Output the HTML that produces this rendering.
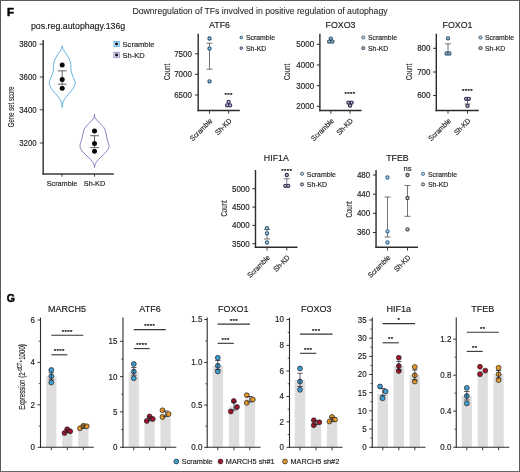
<!DOCTYPE html>
<html lang="en"><head><meta charset="utf-8"><title>Figure F-G</title>
<style>html,body{margin:0;padding:0;background:#fff;}body{width:520px;height:472px;overflow:hidden;}svg{display:block;font-family:'Liberation Sans', sans-serif;}text{stroke:#222;stroke-width:0.16px;}text.hd{stroke-width:0.05px;}text.pl{stroke:#000;stroke-width:0.45px;}text.yl{stroke-width:0.12px;}text.yg{stroke-width:0.12px;}text.st{stroke:#111;stroke-width:0.2px;letter-spacing:0.35px;}</style>
</head><body>
<svg width="520" height="472" viewBox="0 0 520 472" role="img" aria-label="Figure panels F and G">
<rect x="0.00" y="0.00" width="520.00" height="472.00" fill="#ffffff"/>
<rect x="0.00" y="0.00" width="520.00" height="1.00" fill="#5e5e5e"/>
<rect x="0.00" y="0.00" width="1.00" height="472.00" fill="#585858"/>
<rect x="0.00" y="471.00" width="520.00" height="1.00" fill="#666666"/>
<rect x="519.00" y="0.00" width="1.00" height="472.00" fill="#5a5a5a"/>
<text x="0.00" y="0.00" font-size="10.4" text-anchor="start" fill="#000" font-weight="bold" transform="translate(7.00 15.70) scale(1.1 1)" class="pl">F</text>
<text x="132.40" y="14.20" font-size="8.7" text-anchor="start" fill="#222222" textLength="255.2" lengthAdjust="spacing" class="hd">Downregulation of TFs involved in positive regulation of autophagy</text>
<text x="78.10" y="29.00" font-size="8.8" text-anchor="middle" fill="#222222">pos.reg.autophagy.136g</text>
<line x1="43.20" y1="40.00" x2="43.20" y2="174.70" stroke="#3a3a3a" stroke-width="1.5"/>
<line x1="42.45" y1="173.95" x2="113.80" y2="173.95" stroke="#3a3a3a" stroke-width="1.5"/>
<line x1="39.70" y1="44.20" x2="43.20" y2="44.20" stroke="#2b2b2b" stroke-width="0.9"/>
<text x="0.00" y="0.00" font-size="8.3" text-anchor="end" fill="#222222" transform="translate(36.60 47.10) scale(0.94 1)">3800</text>
<line x1="39.70" y1="77.00" x2="43.20" y2="77.00" stroke="#2b2b2b" stroke-width="0.9"/>
<text x="0.00" y="0.00" font-size="8.3" text-anchor="end" fill="#222222" transform="translate(36.60 79.90) scale(0.94 1)">3600</text>
<line x1="39.70" y1="109.80" x2="43.20" y2="109.80" stroke="#2b2b2b" stroke-width="0.9"/>
<text x="0.00" y="0.00" font-size="8.3" text-anchor="end" fill="#222222" transform="translate(36.60 112.70) scale(0.94 1)">3400</text>
<line x1="39.70" y1="143.00" x2="43.20" y2="143.00" stroke="#2b2b2b" stroke-width="0.9"/>
<text x="0.00" y="0.00" font-size="8.3" text-anchor="end" fill="#222222" transform="translate(36.60 145.90) scale(0.94 1)">3200</text>
<line x1="62.00" y1="173.95" x2="62.00" y2="176.65" stroke="#2b2b2b" stroke-width="0.9"/>
<text x="0.00" y="0.00" font-size="8.1" text-anchor="middle" fill="#222222" transform="translate(62.00 186.40) scale(0.9 1)">Scramble</text>
<line x1="94.50" y1="173.95" x2="94.50" y2="176.65" stroke="#2b2b2b" stroke-width="0.9"/>
<text x="0.00" y="0.00" font-size="8.1" text-anchor="middle" fill="#222222" transform="translate(94.50 186.40) scale(0.9 1)">Sh-KD</text>
<text x="0.00" y="0.00" font-size="9" text-anchor="middle" fill="#222222" transform="translate(13.80 106.80) rotate(-90) scale(0.67 1)" class="yl">Gene set score</text>
<path d="M62.20 45.90 C62.28 46.33 62.33 47.62 62.70 48.50 C63.07 49.38 63.55 49.87 64.40 51.20 C65.25 52.53 66.80 54.73 67.80 56.50 C68.80 58.27 69.88 60.03 70.40 61.80 C70.92 63.57 70.73 65.33 70.90 67.10 C71.07 68.87 70.97 70.63 71.40 72.40 C71.83 74.17 72.87 75.93 73.50 77.70 C74.13 79.47 75.25 81.23 75.20 83.00 C75.15 84.77 74.23 86.53 73.20 88.30 C72.17 90.07 70.42 91.83 69.00 93.60 C67.58 95.37 65.73 97.32 64.70 98.90 C63.67 100.48 63.22 101.70 62.80 103.10 C62.38 104.50 62.40 107.30 62.20 107.30 C62.00 107.30 62.02 104.50 61.60 103.10 C61.18 101.70 60.73 100.48 59.70 98.90 C58.67 97.32 56.82 95.37 55.40 93.60 C53.98 91.83 52.23 90.07 51.20 88.30 C50.17 86.53 49.25 84.77 49.20 83.00 C49.15 81.23 50.27 79.47 50.90 77.70 C51.53 75.93 52.57 74.17 53.00 72.40 C53.43 70.63 53.33 68.87 53.50 67.10 C53.67 65.33 53.48 63.57 54.00 61.80 C54.52 60.03 55.60 58.27 56.60 56.50 C57.60 54.73 59.15 52.53 60.00 51.20 C60.85 49.87 61.33 49.38 61.70 48.50 C62.07 47.62 62.12 46.33 62.20 45.90" fill="none" stroke="#3f9ed8" stroke-width="0.8" stroke-linejoin="round"/>
<path d="M94.50 114.20 C94.58 114.75 94.47 116.37 95.00 117.50 C95.53 118.63 96.68 119.83 97.70 121.00 C98.72 122.17 100.08 123.42 101.10 124.50 C102.12 125.58 103.08 126.42 103.80 127.50 C104.52 128.58 104.98 129.75 105.40 131.00 C105.82 132.25 106.02 133.67 106.30 135.00 C106.58 136.33 106.77 137.75 107.10 139.00 C107.43 140.25 107.98 141.42 108.30 142.50 C108.62 143.58 108.98 144.50 109.00 145.50 C109.02 146.50 108.88 147.42 108.40 148.50 C107.92 149.58 107.17 150.75 106.10 152.00 C105.03 153.25 103.27 154.75 102.00 156.00 C100.73 157.25 99.48 158.42 98.50 159.50 C97.52 160.58 96.68 161.58 96.10 162.50 C95.52 163.42 95.27 164.15 95.00 165.00 C94.73 165.85 94.67 167.60 94.50 167.60 C94.33 167.60 94.27 165.85 94.00 165.00 C93.73 164.15 93.48 163.42 92.90 162.50 C92.32 161.58 91.48 160.58 90.50 159.50 C89.52 158.42 88.27 157.25 87.00 156.00 C85.73 154.75 83.97 153.25 82.90 152.00 C81.83 150.75 81.08 149.58 80.60 148.50 C80.12 147.42 79.98 146.50 80.00 145.50 C80.02 144.50 80.38 143.58 80.70 142.50 C81.02 141.42 81.57 140.25 81.90 139.00 C82.23 137.75 82.42 136.33 82.70 135.00 C82.98 133.67 83.18 132.25 83.60 131.00 C84.02 129.75 84.48 128.58 85.20 127.50 C85.92 126.42 86.88 125.58 87.90 124.50 C88.92 123.42 90.28 122.17 91.30 121.00 C92.32 119.83 93.47 118.63 94.00 117.50 C94.53 116.37 94.42 114.75 94.50 114.20" fill="none" stroke="#6f62ad" stroke-width="0.8" stroke-linejoin="round"/>
<line x1="62.20" y1="70.85" x2="62.20" y2="84.20" stroke="#222" stroke-width="0.7"/>
<line x1="57.80" y1="70.85" x2="66.60" y2="70.85" stroke="#222" stroke-width="0.7"/>
<line x1="57.80" y1="84.20" x2="66.60" y2="84.20" stroke="#222" stroke-width="0.7"/>
<line x1="94.50" y1="135.70" x2="94.50" y2="147.60" stroke="#222" stroke-width="0.7"/>
<line x1="90.10" y1="135.70" x2="98.90" y2="135.70" stroke="#222" stroke-width="0.7"/>
<line x1="90.10" y1="147.60" x2="98.90" y2="147.60" stroke="#222" stroke-width="0.7"/>
<circle cx="62.20" cy="64.90" r="2.5" fill="#0a0a0a" stroke="#111" stroke-width="0"/>
<circle cx="62.20" cy="79.60" r="2.5" fill="#0a0a0a" stroke="#111" stroke-width="0"/>
<circle cx="62.20" cy="88.20" r="2.5" fill="#0a0a0a" stroke="#111" stroke-width="0"/>
<circle cx="94.50" cy="131.00" r="2.5" fill="#0a0a0a" stroke="#111" stroke-width="0"/>
<circle cx="94.50" cy="143.60" r="2.5" fill="#0a0a0a" stroke="#111" stroke-width="0"/>
<circle cx="94.50" cy="151.30" r="2.5" fill="#0a0a0a" stroke="#111" stroke-width="0"/>
<rect x="113.90" y="41.30" width="5.40" height="5.40" fill="#c4e5f8" stroke="#55ade2" stroke-width="0.8"/>
<circle cx="116.60" cy="44.00" r="1.45" fill="#0a0a0a" stroke="#111" stroke-width="0"/>
<text x="0.00" y="0.00" font-size="8.1" text-anchor="start" fill="#222222" transform="translate(122.60 46.50) scale(0.93 1)">Scramble</text>
<rect x="113.90" y="52.30" width="5.40" height="5.40" fill="#dedaf0" stroke="#8d84c2" stroke-width="0.8"/>
<circle cx="116.60" cy="55.00" r="1.45" fill="#0a0a0a" stroke="#111" stroke-width="0"/>
<text x="0.00" y="0.00" font-size="8.1" text-anchor="start" fill="#222222" transform="translate(122.60 57.50) scale(0.93 1)">Sh-KD</text>
<text x="219.50" y="28.20" font-size="8.8" text-anchor="middle" fill="#222222">ATF6</text>
<line x1="198.20" y1="33.80" x2="198.20" y2="111.20" stroke="#2b2b2b" stroke-width="1.4"/>
<line x1="197.50" y1="110.50" x2="239.80" y2="110.50" stroke="#2b2b2b" stroke-width="1.4"/>
<line x1="195.10" y1="53.80" x2="198.20" y2="53.80" stroke="#2b2b2b" stroke-width="1.0"/>
<text x="0.00" y="0.00" font-size="8.5" text-anchor="end" fill="#222222" transform="translate(191.90 56.75) scale(0.94 1)">7500</text>
<line x1="195.10" y1="74.30" x2="198.20" y2="74.30" stroke="#2b2b2b" stroke-width="1.0"/>
<text x="0.00" y="0.00" font-size="8.5" text-anchor="end" fill="#222222" transform="translate(191.90 77.25) scale(0.94 1)">7000</text>
<line x1="195.10" y1="95.00" x2="198.20" y2="95.00" stroke="#2b2b2b" stroke-width="1.0"/>
<text x="0.00" y="0.00" font-size="8.5" text-anchor="end" fill="#222222" transform="translate(191.90 97.95) scale(0.94 1)">6500</text>
<line x1="209.50" y1="110.50" x2="209.50" y2="113.70" stroke="#2b2b2b" stroke-width="0.9"/>
<text x="0.00" y="0.00" font-size="7.3" text-anchor="end" fill="#222222" transform="translate(213.00 121.30) rotate(-45) scale(0.93 1)">Scramble</text>
<line x1="228.60" y1="110.50" x2="228.60" y2="113.70" stroke="#2b2b2b" stroke-width="0.9"/>
<text x="0.00" y="0.00" font-size="7.3" text-anchor="end" fill="#222222" transform="translate(232.10 121.30) rotate(-45) scale(0.93 1)">Sh-KD</text>
<text x="0.00" y="0.00" font-size="9.5" text-anchor="middle" fill="#222222" transform="translate(169.90 72.00) rotate(-90) scale(0.64 1)" class="yl">Count</text>
<circle cx="241.30" cy="37.50" r="1.3" fill="#9ccbe6" stroke="#265273" stroke-width="0.95"/>
<text x="0.00" y="0.00" font-size="7.4" text-anchor="start" fill="#222222" transform="translate(246.00 40.20) scale(0.93 1)">Scramble</text>
<circle cx="241.30" cy="48.10" r="1.3" fill="#bdbad6" stroke="#3b3a5c" stroke-width="0.95"/>
<text x="0.00" y="0.00" font-size="7.4" text-anchor="start" fill="#222222" transform="translate(246.00 50.80) scale(0.93 1)">Sh-KD</text>
<line x1="209.50" y1="43.20" x2="209.50" y2="69.20" stroke="#5a5a62" stroke-width="0.85"/>
<line x1="206.50" y1="43.20" x2="212.50" y2="43.20" stroke="#5a5a62" stroke-width="0.85"/>
<line x1="206.50" y1="69.20" x2="212.50" y2="69.20" stroke="#5a5a62" stroke-width="0.85"/>
<circle cx="209.50" cy="38.50" r="1.6" fill="#9ccbe6" stroke="#265273" stroke-width="1.15"/>
<circle cx="209.50" cy="48.60" r="1.6" fill="#9ccbe6" stroke="#265273" stroke-width="1.15"/>
<circle cx="209.50" cy="81.30" r="1.6" fill="#9ccbe6" stroke="#265273" stroke-width="1.15"/>
<circle cx="228.60" cy="101.90" r="1.6" fill="#bdbad6" stroke="#3b3a5c" stroke-width="1.15"/>
<circle cx="227.10" cy="105.30" r="1.6" fill="#bdbad6" stroke="#3b3a5c" stroke-width="1.15"/>
<circle cx="230.10" cy="105.30" r="1.6" fill="#bdbad6" stroke="#3b3a5c" stroke-width="1.15"/>
<text x="228.60" y="97.20" font-size="6.2" text-anchor="middle" fill="#111" class="st">***</text>
<text x="340.50" y="28.20" font-size="8.8" text-anchor="middle" fill="#222222">FOXO3</text>
<line x1="319.90" y1="33.80" x2="319.90" y2="111.20" stroke="#2b2b2b" stroke-width="1.4"/>
<line x1="319.20" y1="110.50" x2="361.60" y2="110.50" stroke="#2b2b2b" stroke-width="1.4"/>
<line x1="316.80" y1="44.30" x2="319.90" y2="44.30" stroke="#2b2b2b" stroke-width="1.0"/>
<text x="0.00" y="0.00" font-size="8.5" text-anchor="end" fill="#222222" transform="translate(314.10 47.25) scale(0.94 1)">5000</text>
<line x1="316.80" y1="65.00" x2="319.90" y2="65.00" stroke="#2b2b2b" stroke-width="1.0"/>
<text x="0.00" y="0.00" font-size="8.5" text-anchor="end" fill="#222222" transform="translate(314.10 67.95) scale(0.94 1)">4000</text>
<line x1="316.80" y1="85.70" x2="319.90" y2="85.70" stroke="#2b2b2b" stroke-width="1.0"/>
<text x="0.00" y="0.00" font-size="8.5" text-anchor="end" fill="#222222" transform="translate(314.10 88.65) scale(0.94 1)">3000</text>
<line x1="316.80" y1="106.30" x2="319.90" y2="106.30" stroke="#2b2b2b" stroke-width="1.0"/>
<text x="0.00" y="0.00" font-size="8.5" text-anchor="end" fill="#222222" transform="translate(314.10 109.25) scale(0.94 1)">2000</text>
<line x1="330.80" y1="110.50" x2="330.80" y2="113.70" stroke="#2b2b2b" stroke-width="0.9"/>
<text x="0.00" y="0.00" font-size="7.3" text-anchor="end" fill="#222222" transform="translate(334.30 121.30) rotate(-45) scale(0.93 1)">Scramble</text>
<line x1="350.00" y1="110.50" x2="350.00" y2="113.70" stroke="#2b2b2b" stroke-width="0.9"/>
<text x="0.00" y="0.00" font-size="7.3" text-anchor="end" fill="#222222" transform="translate(353.50 121.30) rotate(-45) scale(0.93 1)">Sh-KD</text>
<text x="0.00" y="0.00" font-size="9.5" text-anchor="middle" fill="#222222" transform="translate(289.90 72.00) rotate(-90) scale(0.64 1)" class="yl">Count</text>
<circle cx="363.30" cy="37.50" r="1.6" fill="#c4d3dc" stroke="#4d6675" stroke-width="0.95"/>
<text x="0.00" y="0.00" font-size="7.4" text-anchor="start" fill="#222222" transform="translate(368.00 40.20) scale(0.93 1)">Scramble</text>
<circle cx="363.30" cy="48.10" r="1.6" fill="#b8b8c8" stroke="#44445a" stroke-width="0.95"/>
<text x="0.00" y="0.00" font-size="7.4" text-anchor="start" fill="#222222" transform="translate(368.00 50.80) scale(0.93 1)">Sh-KD</text>
<circle cx="330.80" cy="38.60" r="1.6" fill="#a9c6d8" stroke="#2f5068" stroke-width="1.15"/>
<circle cx="329.20" cy="41.60" r="1.6" fill="#a9c6d8" stroke="#2f5068" stroke-width="1.15"/>
<circle cx="332.40" cy="41.60" r="1.6" fill="#a9c6d8" stroke="#2f5068" stroke-width="1.15"/>
<circle cx="348.40" cy="102.60" r="1.6" fill="#b5b5d0" stroke="#2c2c4a" stroke-width="1.15"/>
<circle cx="351.60" cy="102.60" r="1.6" fill="#b5b5d0" stroke="#2c2c4a" stroke-width="1.15"/>
<circle cx="350.00" cy="105.60" r="1.6" fill="#b5b5d0" stroke="#2c2c4a" stroke-width="1.15"/>
<text x="350.00" y="95.80" font-size="6.2" text-anchor="middle" fill="#111" class="st">****</text>
<text x="457.50" y="28.20" font-size="8.8" text-anchor="middle" fill="#222222">FOXO1</text>
<line x1="436.30" y1="33.80" x2="436.30" y2="111.20" stroke="#2b2b2b" stroke-width="1.4"/>
<line x1="435.60" y1="110.50" x2="478.80" y2="110.50" stroke="#2b2b2b" stroke-width="1.4"/>
<line x1="433.20" y1="48.30" x2="436.30" y2="48.30" stroke="#2b2b2b" stroke-width="1.0"/>
<text x="0.00" y="0.00" font-size="8.5" text-anchor="end" fill="#222222" transform="translate(430.50 51.25) scale(0.94 1)">800</text>
<line x1="433.20" y1="72.00" x2="436.30" y2="72.00" stroke="#2b2b2b" stroke-width="1.0"/>
<text x="0.00" y="0.00" font-size="8.5" text-anchor="end" fill="#222222" transform="translate(430.50 74.95) scale(0.94 1)">700</text>
<line x1="433.20" y1="95.50" x2="436.30" y2="95.50" stroke="#2b2b2b" stroke-width="1.0"/>
<text x="0.00" y="0.00" font-size="8.5" text-anchor="end" fill="#222222" transform="translate(430.50 98.45) scale(0.94 1)">600</text>
<line x1="448.00" y1="110.50" x2="448.00" y2="113.70" stroke="#2b2b2b" stroke-width="0.9"/>
<text x="0.00" y="0.00" font-size="7.3" text-anchor="end" fill="#222222" transform="translate(451.50 121.30) rotate(-45) scale(0.93 1)">Scramble</text>
<line x1="467.50" y1="110.50" x2="467.50" y2="113.70" stroke="#2b2b2b" stroke-width="0.9"/>
<text x="0.00" y="0.00" font-size="7.3" text-anchor="end" fill="#222222" transform="translate(471.00 121.30) rotate(-45) scale(0.93 1)">Sh-KD</text>
<text x="0.00" y="0.00" font-size="9.5" text-anchor="middle" fill="#222222" transform="translate(412.40 72.00) rotate(-90) scale(0.64 1)" class="yl">Count</text>
<circle cx="480.50" cy="37.50" r="1.6" fill="#b5cbd8" stroke="#3c5a70" stroke-width="0.95"/>
<text x="0.00" y="0.00" font-size="7.4" text-anchor="start" fill="#222222" transform="translate(485.00 40.20) scale(0.93 1)">Scramble</text>
<circle cx="480.50" cy="48.10" r="1.6" fill="#b8b8c8" stroke="#3c3c54" stroke-width="0.95"/>
<text x="0.00" y="0.00" font-size="7.4" text-anchor="start" fill="#222222" transform="translate(485.00 50.80) scale(0.93 1)">Sh-KD</text>
<line x1="448.00" y1="43.80" x2="448.00" y2="53.40" stroke="#5a5a62" stroke-width="0.85"/>
<line x1="445.00" y1="43.80" x2="451.00" y2="43.80" stroke="#5a5a62" stroke-width="0.85"/>
<line x1="445.00" y1="53.40" x2="451.00" y2="53.40" stroke="#5a5a62" stroke-width="0.85"/>
<circle cx="448.00" cy="38.30" r="1.6" fill="#a9c6d8" stroke="#34566c" stroke-width="1.15"/>
<circle cx="446.60" cy="53.50" r="1.6" fill="#a9c6d8" stroke="#34566c" stroke-width="1.15"/>
<circle cx="449.40" cy="53.50" r="1.6" fill="#a9c6d8" stroke="#34566c" stroke-width="1.15"/>
<line x1="467.50" y1="98.40" x2="467.50" y2="104.00" stroke="#5a5a62" stroke-width="0.85"/>
<line x1="464.50" y1="98.40" x2="470.50" y2="98.40" stroke="#5a5a62" stroke-width="0.85"/>
<line x1="464.50" y1="104.00" x2="470.50" y2="104.00" stroke="#5a5a62" stroke-width="0.85"/>
<circle cx="466.20" cy="98.80" r="1.6" fill="#b5b5d0" stroke="#33334e" stroke-width="1.15"/>
<circle cx="468.80" cy="98.80" r="1.6" fill="#b5b5d0" stroke="#33334e" stroke-width="1.15"/>
<circle cx="467.50" cy="105.80" r="1.6" fill="#b5b5d0" stroke="#33334e" stroke-width="1.15"/>
<text x="467.50" y="93.20" font-size="6.2" text-anchor="middle" fill="#111" class="st">****</text>
<text x="276.30" y="160.70" font-size="8.8" text-anchor="middle" fill="#222222">HIF1A</text>
<line x1="255.50" y1="170.00" x2="255.50" y2="248.00" stroke="#2b2b2b" stroke-width="1.4"/>
<line x1="254.80" y1="247.30" x2="297.50" y2="247.30" stroke="#2b2b2b" stroke-width="1.4"/>
<line x1="252.40" y1="188.70" x2="255.50" y2="188.70" stroke="#2b2b2b" stroke-width="1.0"/>
<text x="0.00" y="0.00" font-size="8.5" text-anchor="end" fill="#222222" transform="translate(249.70 191.65) scale(0.94 1)">5000</text>
<line x1="252.40" y1="207.10" x2="255.50" y2="207.10" stroke="#2b2b2b" stroke-width="1.0"/>
<text x="0.00" y="0.00" font-size="8.5" text-anchor="end" fill="#222222" transform="translate(249.70 210.05) scale(0.94 1)">4500</text>
<line x1="252.40" y1="225.40" x2="255.50" y2="225.40" stroke="#2b2b2b" stroke-width="1.0"/>
<text x="0.00" y="0.00" font-size="8.5" text-anchor="end" fill="#222222" transform="translate(249.70 228.35) scale(0.94 1)">4000</text>
<line x1="252.40" y1="243.70" x2="255.50" y2="243.70" stroke="#2b2b2b" stroke-width="1.0"/>
<text x="0.00" y="0.00" font-size="8.5" text-anchor="end" fill="#222222" transform="translate(249.70 246.65) scale(0.94 1)">3500</text>
<line x1="267.00" y1="247.30" x2="267.00" y2="250.50" stroke="#2b2b2b" stroke-width="0.9"/>
<text x="0.00" y="0.00" font-size="7.3" text-anchor="end" fill="#222222" transform="translate(270.50 258.10) rotate(-45) scale(0.93 1)">Scramble</text>
<line x1="286.80" y1="247.30" x2="286.80" y2="250.50" stroke="#2b2b2b" stroke-width="0.9"/>
<text x="0.00" y="0.00" font-size="7.3" text-anchor="end" fill="#222222" transform="translate(290.30 258.10) rotate(-45) scale(0.93 1)">Sh-KD</text>
<text x="0.00" y="0.00" font-size="9.5" text-anchor="middle" fill="#222222" transform="translate(226.90 208.50) rotate(-90) scale(0.64 1)" class="yl">Count</text>
<circle cx="302.00" cy="173.80" r="1.6" fill="#bcd0dc" stroke="#4a6a80" stroke-width="0.95"/>
<text x="0.00" y="0.00" font-size="7.4" text-anchor="start" fill="#222222" transform="translate(306.80 176.50) scale(0.93 1)">Scramble</text>
<circle cx="302.00" cy="184.40" r="1.6" fill="#b8b8c8" stroke="#44445a" stroke-width="0.95"/>
<text x="0.00" y="0.00" font-size="7.4" text-anchor="start" fill="#222222" transform="translate(306.80 187.10) scale(0.93 1)">Sh-KD</text>
<line x1="267.00" y1="229.50" x2="267.00" y2="239.00" stroke="#5a5a62" stroke-width="0.85"/>
<line x1="264.00" y1="229.50" x2="270.00" y2="229.50" stroke="#5a5a62" stroke-width="0.85"/>
<line x1="264.00" y1="239.00" x2="270.00" y2="239.00" stroke="#5a5a62" stroke-width="0.85"/>
<circle cx="267.00" cy="228.20" r="1.6" fill="#b5d3e4" stroke="#34607c" stroke-width="1.15"/>
<circle cx="267.00" cy="233.30" r="1.6" fill="#b5d3e4" stroke="#34607c" stroke-width="1.15"/>
<circle cx="267.00" cy="242.50" r="1.6" fill="#b5d3e4" stroke="#34607c" stroke-width="1.15"/>
<line x1="286.80" y1="178.80" x2="286.80" y2="185.50" stroke="#5a5a62" stroke-width="0.85"/>
<line x1="283.80" y1="178.80" x2="289.80" y2="178.80" stroke="#5a5a62" stroke-width="0.85"/>
<line x1="283.80" y1="185.50" x2="289.80" y2="185.50" stroke="#5a5a62" stroke-width="0.85"/>
<circle cx="286.80" cy="175.00" r="1.6" fill="#c0c0d8" stroke="#33334e" stroke-width="1.15"/>
<circle cx="285.40" cy="185.80" r="1.6" fill="#c0c0d8" stroke="#33334e" stroke-width="1.15"/>
<circle cx="288.20" cy="185.80" r="1.6" fill="#c0c0d8" stroke="#33334e" stroke-width="1.15"/>
<text x="286.80" y="172.50" font-size="6.2" text-anchor="middle" fill="#111" class="st">****</text>
<text x="397.50" y="160.70" font-size="8.8" text-anchor="middle" fill="#222222">TFEB</text>
<line x1="376.05" y1="170.00" x2="376.05" y2="248.00" stroke="#2b2b2b" stroke-width="1.4"/>
<line x1="375.35" y1="247.30" x2="418.00" y2="247.30" stroke="#2b2b2b" stroke-width="1.4"/>
<line x1="372.95" y1="175.00" x2="376.05" y2="175.00" stroke="#2b2b2b" stroke-width="1.0"/>
<text x="0.00" y="0.00" font-size="8.5" text-anchor="end" fill="#222222" transform="translate(370.25 177.95) scale(0.94 1)">480</text>
<line x1="372.95" y1="194.20" x2="376.05" y2="194.20" stroke="#2b2b2b" stroke-width="1.0"/>
<text x="0.00" y="0.00" font-size="8.5" text-anchor="end" fill="#222222" transform="translate(370.25 197.15) scale(0.94 1)">440</text>
<line x1="372.95" y1="213.30" x2="376.05" y2="213.30" stroke="#2b2b2b" stroke-width="1.0"/>
<text x="0.00" y="0.00" font-size="8.5" text-anchor="end" fill="#222222" transform="translate(370.25 216.25) scale(0.94 1)">400</text>
<line x1="372.95" y1="232.50" x2="376.05" y2="232.50" stroke="#2b2b2b" stroke-width="1.0"/>
<text x="0.00" y="0.00" font-size="8.5" text-anchor="end" fill="#222222" transform="translate(370.25 235.45) scale(0.94 1)">360</text>
<line x1="387.50" y1="247.30" x2="387.50" y2="250.50" stroke="#2b2b2b" stroke-width="0.9"/>
<text x="0.00" y="0.00" font-size="7.3" text-anchor="end" fill="#222222" transform="translate(391.00 258.10) rotate(-45) scale(0.93 1)">Scramble</text>
<line x1="407.50" y1="247.30" x2="407.50" y2="250.50" stroke="#2b2b2b" stroke-width="0.9"/>
<text x="0.00" y="0.00" font-size="7.3" text-anchor="end" fill="#222222" transform="translate(411.00 258.10) rotate(-45) scale(0.93 1)">Sh-KD</text>
<text x="0.00" y="0.00" font-size="9.5" text-anchor="middle" fill="#222222" transform="translate(352.10 209.30) rotate(-90) scale(0.64 1)" class="yl">Count</text>
<circle cx="423.00" cy="173.80" r="1.6" fill="#b5d3e8" stroke="#3f7098" stroke-width="0.95"/>
<text x="0.00" y="0.00" font-size="7.4" text-anchor="start" fill="#222222" transform="translate(428.00 176.50) scale(0.93 1)">Scramble</text>
<circle cx="423.00" cy="184.40" r="1.6" fill="#cccccc" stroke="#4a4a4a" stroke-width="0.95"/>
<text x="0.00" y="0.00" font-size="7.4" text-anchor="start" fill="#222222" transform="translate(428.00 187.10) scale(0.93 1)">Sh-KD</text>
<line x1="387.50" y1="197.00" x2="387.50" y2="237.00" stroke="#5a5a62" stroke-width="0.85"/>
<line x1="384.50" y1="197.00" x2="390.50" y2="197.00" stroke="#5a5a62" stroke-width="0.85"/>
<line x1="384.50" y1="237.00" x2="390.50" y2="237.00" stroke="#5a5a62" stroke-width="0.85"/>
<circle cx="387.50" cy="177.50" r="1.6" fill="#b5d3e8" stroke="#3a6e96" stroke-width="1.15"/>
<circle cx="387.50" cy="231.30" r="1.6" fill="#b5d3e8" stroke="#3a6e96" stroke-width="1.15"/>
<circle cx="387.50" cy="242.50" r="1.6" fill="#b5d3e8" stroke="#3a6e96" stroke-width="1.15"/>
<line x1="407.50" y1="185.50" x2="407.50" y2="216.30" stroke="#5a5a62" stroke-width="0.85"/>
<line x1="404.50" y1="185.50" x2="410.50" y2="185.50" stroke="#5a5a62" stroke-width="0.85"/>
<line x1="404.50" y1="216.30" x2="410.50" y2="216.30" stroke="#5a5a62" stroke-width="0.85"/>
<circle cx="407.50" cy="175.00" r="1.6" fill="#d0d0d0" stroke="#474747" stroke-width="1.15"/>
<circle cx="407.50" cy="198.00" r="1.6" fill="#d0d0d0" stroke="#474747" stroke-width="1.15"/>
<circle cx="407.50" cy="229.30" r="1.6" fill="#d0d0d0" stroke="#474747" stroke-width="1.15"/>
<text x="407.50" y="171.20" font-size="7.6" text-anchor="middle" fill="#222222">ns</text>
<text x="0.00" y="0.00" font-size="10.8" text-anchor="start" fill="#000" font-weight="bold" transform="translate(6.80 301.90) scale(0.98 1)" class="pl">G</text>
<text x="67.00" y="312.20" font-size="9" text-anchor="middle" fill="#222222">MARCH5</text>
<rect x="46.20" y="376.30" width="10.20" height="71.00" fill="#dedede"/>
<rect x="62.20" y="431.50" width="10.20" height="15.80" fill="#dedede"/>
<rect x="78.20" y="427.00" width="10.20" height="20.30" fill="#dedede"/>
<line x1="40.50" y1="317.60" x2="40.50" y2="447.85" stroke="#2b2b2b" stroke-width="1.1"/>
<line x1="39.95" y1="447.30" x2="93.80" y2="447.30" stroke="#2b2b2b" stroke-width="1.1"/>
<line x1="38.70" y1="341.20" x2="40.50" y2="341.20" stroke="#2b2b2b" stroke-width="0.8"/>
<line x1="38.70" y1="383.60" x2="40.50" y2="383.60" stroke="#2b2b2b" stroke-width="0.8"/>
<line x1="38.70" y1="426.05" x2="40.50" y2="426.05" stroke="#2b2b2b" stroke-width="0.8"/>
<line x1="37.50" y1="320.00" x2="40.50" y2="320.00" stroke="#2b2b2b" stroke-width="0.95"/>
<text x="0.00" y="0.00" font-size="8.5" text-anchor="end" fill="#222222" transform="translate(34.90 322.95) scale(0.94 1)">6</text>
<line x1="37.50" y1="362.40" x2="40.50" y2="362.40" stroke="#2b2b2b" stroke-width="0.95"/>
<text x="0.00" y="0.00" font-size="8.5" text-anchor="end" fill="#222222" transform="translate(34.90 365.35) scale(0.94 1)">4</text>
<line x1="37.50" y1="404.80" x2="40.50" y2="404.80" stroke="#2b2b2b" stroke-width="0.95"/>
<text x="0.00" y="0.00" font-size="8.5" text-anchor="end" fill="#222222" transform="translate(34.90 407.75) scale(0.94 1)">2</text>
<line x1="37.50" y1="447.30" x2="40.50" y2="447.30" stroke="#2b2b2b" stroke-width="0.95"/>
<text x="0.00" y="0.00" font-size="8.5" text-anchor="end" fill="#222222" transform="translate(34.90 450.25) scale(0.94 1)">0</text>
<line x1="51.30" y1="447.30" x2="51.30" y2="450.30" stroke="#2b2b2b" stroke-width="0.95"/>
<line x1="67.30" y1="447.30" x2="67.30" y2="450.30" stroke="#2b2b2b" stroke-width="0.95"/>
<line x1="83.30" y1="447.30" x2="83.30" y2="450.30" stroke="#2b2b2b" stroke-width="0.95"/>
<circle cx="51.30" cy="370.00" r="2.45" fill="#3f9fd3" stroke="#1c1c1c" stroke-width="0.7"/>
<circle cx="51.30" cy="376.30" r="2.45" fill="#3f9fd3" stroke="#1c1c1c" stroke-width="0.7"/>
<circle cx="51.30" cy="382.50" r="2.45" fill="#3f9fd3" stroke="#1c1c1c" stroke-width="0.7"/>
<circle cx="64.50" cy="433.00" r="2.45" fill="#a3162d" stroke="#1c1c1c" stroke-width="0.7"/>
<circle cx="67.20" cy="429.30" r="2.45" fill="#a3162d" stroke="#1c1c1c" stroke-width="0.7"/>
<circle cx="70.20" cy="431.30" r="2.45" fill="#a3162d" stroke="#1c1c1c" stroke-width="0.7"/>
<circle cx="80.00" cy="428.30" r="2.45" fill="#e59a2b" stroke="#1c1c1c" stroke-width="0.7"/>
<circle cx="83.50" cy="425.80" r="2.45" fill="#e59a2b" stroke="#1c1c1c" stroke-width="0.7"/>
<circle cx="86.70" cy="426.30" r="2.45" fill="#e59a2b" stroke="#1c1c1c" stroke-width="0.7"/>
<line x1="51.30" y1="372.80" x2="51.30" y2="379.80" stroke="#1a1a2a" stroke-width="0.7"/>
<line x1="48.60" y1="372.80" x2="54.00" y2="372.80" stroke="#1a1a2a" stroke-width="0.7"/>
<line x1="48.60" y1="379.80" x2="54.00" y2="379.80" stroke="#1a1a2a" stroke-width="0.7"/>
<line x1="67.30" y1="429.30" x2="67.30" y2="432.60" stroke="#1a1a2a" stroke-width="0.7"/>
<line x1="64.60" y1="429.30" x2="70.00" y2="429.30" stroke="#1a1a2a" stroke-width="0.7"/>
<line x1="64.60" y1="432.60" x2="70.00" y2="432.60" stroke="#1a1a2a" stroke-width="0.7"/>
<line x1="83.30" y1="425.20" x2="83.30" y2="428.20" stroke="#1a1a2a" stroke-width="0.7"/>
<line x1="80.60" y1="425.20" x2="86.00" y2="425.20" stroke="#1a1a2a" stroke-width="0.7"/>
<line x1="80.60" y1="428.20" x2="86.00" y2="428.20" stroke="#1a1a2a" stroke-width="0.7"/>
<line x1="51.30" y1="335.30" x2="83.30" y2="335.30" stroke="#333333" stroke-width="1.1"/>
<text x="67.30" y="333.80" font-size="6.2" text-anchor="middle" fill="#111" class="st">****</text>
<line x1="51.30" y1="354.80" x2="67.30" y2="354.80" stroke="#333333" stroke-width="1.1"/>
<text x="59.30" y="353.30" font-size="6.2" text-anchor="middle" fill="#111" class="st">****</text>
<text x="0.00" y="0.00" font-size="9" text-anchor="start" fill="#222222" transform="translate(24.90 409.80) rotate(-90) scale(0.68 1)" class="yg" id="ylabG">Expression (2<tspan font-size="6.4" dy="-3.2" dx="0.3">-dCT</tspan><tspan font-size="7" dy="1.2" dx="0.8">•</tspan><tspan dy="2" dx="0.8">1000)</tspan></text>
<text x="150.00" y="312.20" font-size="9" text-anchor="middle" fill="#222222">ATF6</text>
<rect x="128.70" y="372.00" width="10.20" height="75.30" fill="#dedede"/>
<rect x="144.50" y="418.50" width="10.20" height="28.80" fill="#dedede"/>
<rect x="160.50" y="414.00" width="10.20" height="33.30" fill="#dedede"/>
<line x1="123.00" y1="317.60" x2="123.00" y2="447.85" stroke="#2b2b2b" stroke-width="1.1"/>
<line x1="122.45" y1="447.30" x2="176.30" y2="447.30" stroke="#2b2b2b" stroke-width="1.1"/>
<line x1="121.20" y1="358.95" x2="123.00" y2="358.95" stroke="#2b2b2b" stroke-width="0.8"/>
<line x1="121.20" y1="394.20" x2="123.00" y2="394.20" stroke="#2b2b2b" stroke-width="0.8"/>
<line x1="121.20" y1="429.55" x2="123.00" y2="429.55" stroke="#2b2b2b" stroke-width="0.8"/>
<line x1="120.00" y1="341.30" x2="123.00" y2="341.30" stroke="#2b2b2b" stroke-width="0.95"/>
<text x="0.00" y="0.00" font-size="8.5" text-anchor="end" fill="#222222" transform="translate(117.40 344.25) scale(0.94 1)">15</text>
<line x1="120.00" y1="376.60" x2="123.00" y2="376.60" stroke="#2b2b2b" stroke-width="0.95"/>
<text x="0.00" y="0.00" font-size="8.5" text-anchor="end" fill="#222222" transform="translate(117.40 379.55) scale(0.94 1)">10</text>
<line x1="120.00" y1="411.80" x2="123.00" y2="411.80" stroke="#2b2b2b" stroke-width="0.95"/>
<text x="0.00" y="0.00" font-size="8.5" text-anchor="end" fill="#222222" transform="translate(117.40 414.75) scale(0.94 1)">5</text>
<line x1="120.00" y1="447.30" x2="123.00" y2="447.30" stroke="#2b2b2b" stroke-width="0.95"/>
<text x="0.00" y="0.00" font-size="8.5" text-anchor="end" fill="#222222" transform="translate(117.40 450.25) scale(0.94 1)">0</text>
<line x1="133.80" y1="447.30" x2="133.80" y2="450.30" stroke="#2b2b2b" stroke-width="0.95"/>
<line x1="149.60" y1="447.30" x2="149.60" y2="450.30" stroke="#2b2b2b" stroke-width="0.95"/>
<line x1="165.60" y1="447.30" x2="165.60" y2="450.30" stroke="#2b2b2b" stroke-width="0.95"/>
<circle cx="133.80" cy="364.00" r="2.45" fill="#3f9fd3" stroke="#1c1c1c" stroke-width="0.7"/>
<circle cx="133.80" cy="371.50" r="2.45" fill="#3f9fd3" stroke="#1c1c1c" stroke-width="0.7"/>
<circle cx="133.80" cy="378.30" r="2.45" fill="#3f9fd3" stroke="#1c1c1c" stroke-width="0.7"/>
<circle cx="146.80" cy="421.00" r="2.45" fill="#a3162d" stroke="#1c1c1c" stroke-width="0.7"/>
<circle cx="149.60" cy="416.50" r="2.45" fill="#a3162d" stroke="#1c1c1c" stroke-width="0.7"/>
<circle cx="152.80" cy="419.00" r="2.45" fill="#a3162d" stroke="#1c1c1c" stroke-width="0.7"/>
<circle cx="162.50" cy="410.30" r="2.45" fill="#e59a2b" stroke="#1c1c1c" stroke-width="0.7"/>
<circle cx="162.50" cy="417.00" r="2.45" fill="#e59a2b" stroke="#1c1c1c" stroke-width="0.7"/>
<circle cx="168.60" cy="414.00" r="2.45" fill="#e59a2b" stroke="#1c1c1c" stroke-width="0.7"/>
<line x1="133.80" y1="367.50" x2="133.80" y2="375.20" stroke="#1a1a2a" stroke-width="0.7"/>
<line x1="131.10" y1="367.50" x2="136.50" y2="367.50" stroke="#1a1a2a" stroke-width="0.7"/>
<line x1="131.10" y1="375.20" x2="136.50" y2="375.20" stroke="#1a1a2a" stroke-width="0.7"/>
<line x1="149.60" y1="417.00" x2="149.60" y2="420.60" stroke="#1a1a2a" stroke-width="0.7"/>
<line x1="146.90" y1="417.00" x2="152.30" y2="417.00" stroke="#1a1a2a" stroke-width="0.7"/>
<line x1="146.90" y1="420.60" x2="152.30" y2="420.60" stroke="#1a1a2a" stroke-width="0.7"/>
<line x1="165.60" y1="411.00" x2="165.60" y2="416.60" stroke="#1a1a2a" stroke-width="0.7"/>
<line x1="162.90" y1="411.00" x2="168.30" y2="411.00" stroke="#1a1a2a" stroke-width="0.7"/>
<line x1="162.90" y1="416.60" x2="168.30" y2="416.60" stroke="#1a1a2a" stroke-width="0.7"/>
<line x1="133.80" y1="329.60" x2="165.80" y2="329.60" stroke="#333333" stroke-width="1.1"/>
<text x="149.80" y="328.10" font-size="6.2" text-anchor="middle" fill="#111" class="st">****</text>
<line x1="133.80" y1="348.60" x2="149.60" y2="348.60" stroke="#333333" stroke-width="1.1"/>
<text x="141.70" y="347.10" font-size="6.2" text-anchor="middle" fill="#111" class="st">****</text>
<text x="233.30" y="312.20" font-size="9" text-anchor="middle" fill="#222222">FOXO1</text>
<rect x="212.60" y="366.00" width="10.40" height="81.30" fill="#dedede"/>
<rect x="228.80" y="406.50" width="10.40" height="40.80" fill="#dedede"/>
<rect x="244.60" y="399.00" width="10.40" height="48.30" fill="#dedede"/>
<line x1="207.20" y1="317.60" x2="207.20" y2="447.85" stroke="#2b2b2b" stroke-width="1.1"/>
<line x1="206.65" y1="447.30" x2="260.50" y2="447.30" stroke="#2b2b2b" stroke-width="1.1"/>
<line x1="205.40" y1="341.00" x2="207.20" y2="341.00" stroke="#2b2b2b" stroke-width="0.8"/>
<line x1="205.40" y1="383.75" x2="207.20" y2="383.75" stroke="#2b2b2b" stroke-width="0.8"/>
<line x1="205.40" y1="426.15" x2="207.20" y2="426.15" stroke="#2b2b2b" stroke-width="0.8"/>
<line x1="204.20" y1="319.50" x2="207.20" y2="319.50" stroke="#2b2b2b" stroke-width="0.95"/>
<text x="0.00" y="0.00" font-size="8.5" text-anchor="end" fill="#222222" transform="translate(202.40 322.45) scale(0.94 1)">1.5</text>
<line x1="204.20" y1="362.50" x2="207.20" y2="362.50" stroke="#2b2b2b" stroke-width="0.95"/>
<text x="0.00" y="0.00" font-size="8.5" text-anchor="end" fill="#222222" transform="translate(202.40 365.45) scale(0.94 1)">1.0</text>
<line x1="204.20" y1="405.00" x2="207.20" y2="405.00" stroke="#2b2b2b" stroke-width="0.95"/>
<text x="0.00" y="0.00" font-size="8.5" text-anchor="end" fill="#222222" transform="translate(202.40 407.95) scale(0.94 1)">0.5</text>
<line x1="204.20" y1="447.30" x2="207.20" y2="447.30" stroke="#2b2b2b" stroke-width="0.95"/>
<text x="0.00" y="0.00" font-size="8.5" text-anchor="end" fill="#222222" transform="translate(202.40 450.25) scale(0.94 1)">0.0</text>
<line x1="217.80" y1="447.30" x2="217.80" y2="450.30" stroke="#2b2b2b" stroke-width="0.95"/>
<line x1="234.00" y1="447.30" x2="234.00" y2="450.30" stroke="#2b2b2b" stroke-width="0.95"/>
<line x1="249.80" y1="447.30" x2="249.80" y2="450.30" stroke="#2b2b2b" stroke-width="0.95"/>
<circle cx="217.80" cy="357.80" r="2.45" fill="#3f9fd3" stroke="#1c1c1c" stroke-width="0.7"/>
<circle cx="217.80" cy="365.80" r="2.45" fill="#3f9fd3" stroke="#1c1c1c" stroke-width="0.7"/>
<circle cx="217.80" cy="371.50" r="2.45" fill="#3f9fd3" stroke="#1c1c1c" stroke-width="0.7"/>
<circle cx="230.80" cy="411.50" r="2.45" fill="#a3162d" stroke="#1c1c1c" stroke-width="0.7"/>
<circle cx="233.80" cy="401.00" r="2.45" fill="#a3162d" stroke="#1c1c1c" stroke-width="0.7"/>
<circle cx="237.00" cy="407.00" r="2.45" fill="#a3162d" stroke="#1c1c1c" stroke-width="0.7"/>
<circle cx="246.80" cy="395.30" r="2.45" fill="#e59a2b" stroke="#1c1c1c" stroke-width="0.7"/>
<circle cx="246.80" cy="402.80" r="2.45" fill="#e59a2b" stroke="#1c1c1c" stroke-width="0.7"/>
<circle cx="252.80" cy="399.50" r="2.45" fill="#e59a2b" stroke="#1c1c1c" stroke-width="0.7"/>
<line x1="217.80" y1="360.50" x2="217.80" y2="369.50" stroke="#1a1a2a" stroke-width="0.7"/>
<line x1="215.10" y1="360.50" x2="220.50" y2="360.50" stroke="#1a1a2a" stroke-width="0.7"/>
<line x1="215.10" y1="369.50" x2="220.50" y2="369.50" stroke="#1a1a2a" stroke-width="0.7"/>
<line x1="234.00" y1="402.00" x2="234.00" y2="410.00" stroke="#1a1a2a" stroke-width="0.7"/>
<line x1="231.30" y1="402.00" x2="236.70" y2="402.00" stroke="#1a1a2a" stroke-width="0.7"/>
<line x1="231.30" y1="410.00" x2="236.70" y2="410.00" stroke="#1a1a2a" stroke-width="0.7"/>
<line x1="249.80" y1="396.50" x2="249.80" y2="402.00" stroke="#1a1a2a" stroke-width="0.7"/>
<line x1="247.10" y1="396.50" x2="252.50" y2="396.50" stroke="#1a1a2a" stroke-width="0.7"/>
<line x1="247.10" y1="402.00" x2="252.50" y2="402.00" stroke="#1a1a2a" stroke-width="0.7"/>
<line x1="217.60" y1="324.10" x2="250.00" y2="324.10" stroke="#333333" stroke-width="1.1"/>
<text x="233.80" y="322.60" font-size="6.2" text-anchor="middle" fill="#111" class="st">***</text>
<line x1="217.60" y1="343.30" x2="233.80" y2="343.30" stroke="#333333" stroke-width="1.1"/>
<text x="225.70" y="341.80" font-size="6.2" text-anchor="middle" fill="#111" class="st">***</text>
<text x="316.30" y="312.20" font-size="9" text-anchor="middle" fill="#222222">FOXO3</text>
<rect x="294.80" y="380.00" width="10.40" height="67.30" fill="#dedede"/>
<rect x="310.80" y="423.00" width="10.40" height="24.30" fill="#dedede"/>
<rect x="326.90" y="420.50" width="10.40" height="26.80" fill="#dedede"/>
<line x1="289.50" y1="317.60" x2="289.50" y2="447.85" stroke="#2b2b2b" stroke-width="1.1"/>
<line x1="288.95" y1="447.30" x2="342.50" y2="447.30" stroke="#2b2b2b" stroke-width="1.1"/>
<line x1="287.70" y1="332.45" x2="289.50" y2="332.45" stroke="#2b2b2b" stroke-width="0.8"/>
<line x1="287.70" y1="358.20" x2="289.50" y2="358.20" stroke="#2b2b2b" stroke-width="0.8"/>
<line x1="287.70" y1="383.75" x2="289.50" y2="383.75" stroke="#2b2b2b" stroke-width="0.8"/>
<line x1="287.70" y1="409.15" x2="289.50" y2="409.15" stroke="#2b2b2b" stroke-width="0.8"/>
<line x1="287.70" y1="434.55" x2="289.50" y2="434.55" stroke="#2b2b2b" stroke-width="0.8"/>
<line x1="286.50" y1="319.50" x2="289.50" y2="319.50" stroke="#2b2b2b" stroke-width="0.95"/>
<text x="0.00" y="0.00" font-size="8.5" text-anchor="end" fill="#222222" transform="translate(283.90 322.45) scale(0.94 1)">10</text>
<line x1="286.50" y1="345.40" x2="289.50" y2="345.40" stroke="#2b2b2b" stroke-width="0.95"/>
<text x="0.00" y="0.00" font-size="8.5" text-anchor="end" fill="#222222" transform="translate(283.90 348.35) scale(0.94 1)">8</text>
<line x1="286.50" y1="371.00" x2="289.50" y2="371.00" stroke="#2b2b2b" stroke-width="0.95"/>
<text x="0.00" y="0.00" font-size="8.5" text-anchor="end" fill="#222222" transform="translate(283.90 373.95) scale(0.94 1)">6</text>
<line x1="286.50" y1="396.50" x2="289.50" y2="396.50" stroke="#2b2b2b" stroke-width="0.95"/>
<text x="0.00" y="0.00" font-size="8.5" text-anchor="end" fill="#222222" transform="translate(283.90 399.45) scale(0.94 1)">4</text>
<line x1="286.50" y1="421.80" x2="289.50" y2="421.80" stroke="#2b2b2b" stroke-width="0.95"/>
<text x="0.00" y="0.00" font-size="8.5" text-anchor="end" fill="#222222" transform="translate(283.90 424.75) scale(0.94 1)">2</text>
<line x1="286.50" y1="447.30" x2="289.50" y2="447.30" stroke="#2b2b2b" stroke-width="0.95"/>
<text x="0.00" y="0.00" font-size="8.5" text-anchor="end" fill="#222222" transform="translate(283.90 450.25) scale(0.94 1)">0</text>
<line x1="300.00" y1="447.30" x2="300.00" y2="450.30" stroke="#2b2b2b" stroke-width="0.95"/>
<line x1="316.00" y1="447.30" x2="316.00" y2="450.30" stroke="#2b2b2b" stroke-width="0.95"/>
<line x1="332.10" y1="447.30" x2="332.10" y2="450.30" stroke="#2b2b2b" stroke-width="0.95"/>
<circle cx="300.00" cy="368.50" r="2.45" fill="#3f9fd3" stroke="#1c1c1c" stroke-width="0.7"/>
<circle cx="300.00" cy="381.50" r="2.45" fill="#3f9fd3" stroke="#1c1c1c" stroke-width="0.7"/>
<circle cx="300.00" cy="389.80" r="2.45" fill="#3f9fd3" stroke="#1c1c1c" stroke-width="0.7"/>
<circle cx="313.80" cy="420.30" r="2.45" fill="#a3162d" stroke="#1c1c1c" stroke-width="0.7"/>
<circle cx="313.80" cy="425.30" r="2.45" fill="#a3162d" stroke="#1c1c1c" stroke-width="0.7"/>
<circle cx="319.30" cy="422.30" r="2.45" fill="#a3162d" stroke="#1c1c1c" stroke-width="0.7"/>
<circle cx="329.50" cy="421.50" r="2.45" fill="#e59a2b" stroke="#1c1c1c" stroke-width="0.7"/>
<circle cx="332.00" cy="417.00" r="2.45" fill="#e59a2b" stroke="#1c1c1c" stroke-width="0.7"/>
<circle cx="335.00" cy="419.50" r="2.45" fill="#e59a2b" stroke="#1c1c1c" stroke-width="0.7"/>
<line x1="300.00" y1="373.30" x2="300.00" y2="386.50" stroke="#1a1a2a" stroke-width="0.7"/>
<line x1="297.30" y1="373.30" x2="302.70" y2="373.30" stroke="#1a1a2a" stroke-width="0.7"/>
<line x1="297.30" y1="386.50" x2="302.70" y2="386.50" stroke="#1a1a2a" stroke-width="0.7"/>
<line x1="316.00" y1="420.60" x2="316.00" y2="424.60" stroke="#1a1a2a" stroke-width="0.7"/>
<line x1="313.30" y1="420.60" x2="318.70" y2="420.60" stroke="#1a1a2a" stroke-width="0.7"/>
<line x1="313.30" y1="424.60" x2="318.70" y2="424.60" stroke="#1a1a2a" stroke-width="0.7"/>
<line x1="332.10" y1="417.60" x2="332.10" y2="421.40" stroke="#1a1a2a" stroke-width="0.7"/>
<line x1="329.40" y1="417.60" x2="334.80" y2="417.60" stroke="#1a1a2a" stroke-width="0.7"/>
<line x1="329.40" y1="421.40" x2="334.80" y2="421.40" stroke="#1a1a2a" stroke-width="0.7"/>
<line x1="300.00" y1="334.10" x2="332.50" y2="334.10" stroke="#333333" stroke-width="1.1"/>
<text x="316.25" y="332.60" font-size="6.2" text-anchor="middle" fill="#111" class="st">***</text>
<line x1="300.00" y1="353.30" x2="316.30" y2="353.30" stroke="#333333" stroke-width="1.1"/>
<text x="308.15" y="351.80" font-size="6.2" text-anchor="middle" fill="#111" class="st">***</text>
<text x="398.80" y="312.20" font-size="9" text-anchor="middle" fill="#222222">HIF1a</text>
<rect x="377.60" y="394.00" width="10.40" height="53.30" fill="#dedede"/>
<rect x="393.60" y="366.00" width="10.40" height="81.30" fill="#dedede"/>
<rect x="409.60" y="375.00" width="10.40" height="72.30" fill="#dedede"/>
<line x1="372.25" y1="317.60" x2="372.25" y2="447.85" stroke="#2b2b2b" stroke-width="1.1"/>
<line x1="371.70" y1="447.30" x2="425.50" y2="447.30" stroke="#2b2b2b" stroke-width="1.1"/>
<line x1="370.45" y1="329.10" x2="372.25" y2="329.10" stroke="#2b2b2b" stroke-width="0.8"/>
<line x1="370.45" y1="347.30" x2="372.25" y2="347.30" stroke="#2b2b2b" stroke-width="0.8"/>
<line x1="370.45" y1="365.45" x2="372.25" y2="365.45" stroke="#2b2b2b" stroke-width="0.8"/>
<line x1="370.45" y1="383.55" x2="372.25" y2="383.55" stroke="#2b2b2b" stroke-width="0.8"/>
<line x1="370.45" y1="401.70" x2="372.25" y2="401.70" stroke="#2b2b2b" stroke-width="0.8"/>
<line x1="370.45" y1="419.90" x2="372.25" y2="419.90" stroke="#2b2b2b" stroke-width="0.8"/>
<line x1="370.45" y1="438.15" x2="372.25" y2="438.15" stroke="#2b2b2b" stroke-width="0.8"/>
<line x1="369.25" y1="320.00" x2="372.25" y2="320.00" stroke="#2b2b2b" stroke-width="0.95"/>
<text x="0.00" y="0.00" font-size="8.5" text-anchor="end" fill="#222222" transform="translate(366.65 322.95) scale(0.94 1)">35</text>
<line x1="369.25" y1="338.20" x2="372.25" y2="338.20" stroke="#2b2b2b" stroke-width="0.95"/>
<text x="0.00" y="0.00" font-size="8.5" text-anchor="end" fill="#222222" transform="translate(366.65 341.15) scale(0.94 1)">30</text>
<line x1="369.25" y1="356.40" x2="372.25" y2="356.40" stroke="#2b2b2b" stroke-width="0.95"/>
<text x="0.00" y="0.00" font-size="8.5" text-anchor="end" fill="#222222" transform="translate(366.65 359.35) scale(0.94 1)">25</text>
<line x1="369.25" y1="374.50" x2="372.25" y2="374.50" stroke="#2b2b2b" stroke-width="0.95"/>
<text x="0.00" y="0.00" font-size="8.5" text-anchor="end" fill="#222222" transform="translate(366.65 377.45) scale(0.94 1)">20</text>
<line x1="369.25" y1="392.60" x2="372.25" y2="392.60" stroke="#2b2b2b" stroke-width="0.95"/>
<text x="0.00" y="0.00" font-size="8.5" text-anchor="end" fill="#222222" transform="translate(366.65 395.55) scale(0.94 1)">15</text>
<line x1="369.25" y1="410.80" x2="372.25" y2="410.80" stroke="#2b2b2b" stroke-width="0.95"/>
<text x="0.00" y="0.00" font-size="8.5" text-anchor="end" fill="#222222" transform="translate(366.65 413.75) scale(0.94 1)">10</text>
<line x1="369.25" y1="429.00" x2="372.25" y2="429.00" stroke="#2b2b2b" stroke-width="0.95"/>
<text x="0.00" y="0.00" font-size="8.5" text-anchor="end" fill="#222222" transform="translate(366.65 431.95) scale(0.94 1)">5</text>
<line x1="369.25" y1="447.30" x2="372.25" y2="447.30" stroke="#2b2b2b" stroke-width="0.95"/>
<text x="0.00" y="0.00" font-size="8.5" text-anchor="end" fill="#222222" transform="translate(366.65 450.25) scale(0.94 1)">0</text>
<line x1="382.80" y1="447.30" x2="382.80" y2="450.30" stroke="#2b2b2b" stroke-width="0.95"/>
<line x1="398.80" y1="447.30" x2="398.80" y2="450.30" stroke="#2b2b2b" stroke-width="0.95"/>
<line x1="414.80" y1="447.30" x2="414.80" y2="450.30" stroke="#2b2b2b" stroke-width="0.95"/>
<circle cx="380.00" cy="386.50" r="2.45" fill="#3f9fd3" stroke="#1c1c1c" stroke-width="0.7"/>
<circle cx="385.60" cy="391.50" r="2.45" fill="#3f9fd3" stroke="#1c1c1c" stroke-width="0.7"/>
<circle cx="382.60" cy="398.30" r="2.45" fill="#3f9fd3" stroke="#1c1c1c" stroke-width="0.7"/>
<circle cx="398.80" cy="357.80" r="2.45" fill="#a3162d" stroke="#1c1c1c" stroke-width="0.7"/>
<circle cx="398.80" cy="366.00" r="2.45" fill="#a3162d" stroke="#1c1c1c" stroke-width="0.7"/>
<circle cx="398.80" cy="371.00" r="2.45" fill="#a3162d" stroke="#1c1c1c" stroke-width="0.7"/>
<circle cx="414.80" cy="367.00" r="2.45" fill="#e59a2b" stroke="#1c1c1c" stroke-width="0.7"/>
<circle cx="414.80" cy="375.30" r="2.45" fill="#e59a2b" stroke="#1c1c1c" stroke-width="0.7"/>
<circle cx="414.80" cy="381.50" r="2.45" fill="#e59a2b" stroke="#1c1c1c" stroke-width="0.7"/>
<line x1="382.80" y1="388.50" x2="382.80" y2="395.50" stroke="#1a1a2a" stroke-width="0.7"/>
<line x1="380.10" y1="388.50" x2="385.50" y2="388.50" stroke="#1a1a2a" stroke-width="0.7"/>
<line x1="380.10" y1="395.50" x2="385.50" y2="395.50" stroke="#1a1a2a" stroke-width="0.7"/>
<line x1="398.80" y1="361.50" x2="398.80" y2="370.00" stroke="#1a1a2a" stroke-width="0.7"/>
<line x1="396.10" y1="361.50" x2="401.50" y2="361.50" stroke="#1a1a2a" stroke-width="0.7"/>
<line x1="396.10" y1="370.00" x2="401.50" y2="370.00" stroke="#1a1a2a" stroke-width="0.7"/>
<line x1="414.80" y1="370.00" x2="414.80" y2="380.00" stroke="#1a1a2a" stroke-width="0.7"/>
<line x1="412.10" y1="370.00" x2="417.50" y2="370.00" stroke="#1a1a2a" stroke-width="0.7"/>
<line x1="412.10" y1="380.00" x2="417.50" y2="380.00" stroke="#1a1a2a" stroke-width="0.7"/>
<line x1="382.60" y1="323.60" x2="415.00" y2="323.60" stroke="#333333" stroke-width="1.1"/>
<text x="398.80" y="322.10" font-size="6.2" text-anchor="middle" fill="#111" class="st">*</text>
<line x1="382.60" y1="342.80" x2="398.80" y2="342.80" stroke="#333333" stroke-width="1.1"/>
<text x="390.70" y="341.30" font-size="6.2" text-anchor="middle" fill="#111" class="st">**</text>
<text x="482.70" y="312.20" font-size="9" text-anchor="middle" fill="#222222">TFEB</text>
<rect x="461.70" y="395.50" width="10.20" height="51.80" fill="#dedede"/>
<rect x="477.60" y="370.50" width="10.20" height="76.80" fill="#dedede"/>
<rect x="493.50" y="374.00" width="10.20" height="73.30" fill="#dedede"/>
<line x1="456.25" y1="317.60" x2="456.25" y2="447.85" stroke="#2b2b2b" stroke-width="1.1"/>
<line x1="455.70" y1="447.30" x2="509.20" y2="447.30" stroke="#2b2b2b" stroke-width="1.1"/>
<line x1="454.45" y1="357.20" x2="456.25" y2="357.20" stroke="#2b2b2b" stroke-width="0.8"/>
<line x1="454.45" y1="393.15" x2="456.25" y2="393.15" stroke="#2b2b2b" stroke-width="0.8"/>
<line x1="454.45" y1="429.20" x2="456.25" y2="429.20" stroke="#2b2b2b" stroke-width="0.8"/>
<line x1="453.25" y1="339.20" x2="456.25" y2="339.20" stroke="#2b2b2b" stroke-width="0.95"/>
<text x="0.00" y="0.00" font-size="8.5" text-anchor="end" fill="#222222" transform="translate(451.45 342.15) scale(0.94 1)">1.2</text>
<line x1="453.25" y1="375.20" x2="456.25" y2="375.20" stroke="#2b2b2b" stroke-width="0.95"/>
<text x="0.00" y="0.00" font-size="8.5" text-anchor="end" fill="#222222" transform="translate(451.45 378.15) scale(0.94 1)">0.8</text>
<line x1="453.25" y1="411.10" x2="456.25" y2="411.10" stroke="#2b2b2b" stroke-width="0.95"/>
<text x="0.00" y="0.00" font-size="8.5" text-anchor="end" fill="#222222" transform="translate(451.45 414.05) scale(0.94 1)">0.4</text>
<line x1="453.25" y1="447.30" x2="456.25" y2="447.30" stroke="#2b2b2b" stroke-width="0.95"/>
<text x="0.00" y="0.00" font-size="8.5" text-anchor="end" fill="#222222" transform="translate(451.45 450.25) scale(0.94 1)">0.0</text>
<line x1="466.80" y1="447.30" x2="466.80" y2="450.30" stroke="#2b2b2b" stroke-width="0.95"/>
<line x1="482.70" y1="447.30" x2="482.70" y2="450.30" stroke="#2b2b2b" stroke-width="0.95"/>
<line x1="498.60" y1="447.30" x2="498.60" y2="450.30" stroke="#2b2b2b" stroke-width="0.95"/>
<circle cx="466.80" cy="387.90" r="2.45" fill="#3f9fd3" stroke="#1c1c1c" stroke-width="0.7"/>
<circle cx="466.80" cy="396.00" r="2.45" fill="#3f9fd3" stroke="#1c1c1c" stroke-width="0.7"/>
<circle cx="466.80" cy="403.40" r="2.45" fill="#3f9fd3" stroke="#1c1c1c" stroke-width="0.7"/>
<circle cx="480.00" cy="366.80" r="2.45" fill="#a3162d" stroke="#1c1c1c" stroke-width="0.7"/>
<circle cx="480.00" cy="374.20" r="2.45" fill="#a3162d" stroke="#1c1c1c" stroke-width="0.7"/>
<circle cx="485.30" cy="370.60" r="2.45" fill="#a3162d" stroke="#1c1c1c" stroke-width="0.7"/>
<circle cx="498.60" cy="367.80" r="2.45" fill="#e59a2b" stroke="#1c1c1c" stroke-width="0.7"/>
<circle cx="498.60" cy="374.20" r="2.45" fill="#e59a2b" stroke="#1c1c1c" stroke-width="0.7"/>
<circle cx="498.60" cy="380.10" r="2.45" fill="#e59a2b" stroke="#1c1c1c" stroke-width="0.7"/>
<line x1="466.80" y1="391.50" x2="466.80" y2="400.00" stroke="#1a1a2a" stroke-width="0.7"/>
<line x1="464.10" y1="391.50" x2="469.50" y2="391.50" stroke="#1a1a2a" stroke-width="0.7"/>
<line x1="464.10" y1="400.00" x2="469.50" y2="400.00" stroke="#1a1a2a" stroke-width="0.7"/>
<line x1="498.60" y1="370.50" x2="498.60" y2="378.00" stroke="#1a1a2a" stroke-width="0.7"/>
<line x1="495.90" y1="370.50" x2="501.30" y2="370.50" stroke="#1a1a2a" stroke-width="0.7"/>
<line x1="495.90" y1="378.00" x2="501.30" y2="378.00" stroke="#1a1a2a" stroke-width="0.7"/>
<line x1="466.80" y1="332.30" x2="498.60" y2="332.30" stroke="#333333" stroke-width="1.1"/>
<text x="482.70" y="330.80" font-size="6.2" text-anchor="middle" fill="#111" class="st">**</text>
<line x1="466.80" y1="351.40" x2="482.70" y2="351.40" stroke="#333333" stroke-width="1.1"/>
<text x="474.75" y="349.90" font-size="6.2" text-anchor="middle" fill="#111" class="st">**</text>
<circle cx="176.30" cy="461.50" r="2.4" fill="#3f9fd3" stroke="#1c1c1c" stroke-width="0.7"/>
<text x="0.00" y="0.00" font-size="7.7" text-anchor="start" fill="#222222" transform="translate(181.80 464.30) scale(0.95 1)">Scramble</text>
<circle cx="220.50" cy="461.50" r="2.4" fill="#a3162d" stroke="#1c1c1c" stroke-width="0.7"/>
<text x="0.00" y="0.00" font-size="7.7" text-anchor="start" fill="#222222" transform="translate(225.80 464.30) scale(0.95 1)">MARCH5 sh#1</text>
<circle cx="285.00" cy="461.50" r="2.4" fill="#e59a2b" stroke="#1c1c1c" stroke-width="0.7"/>
<text x="0.00" y="0.00" font-size="7.7" text-anchor="start" fill="#222222" transform="translate(290.50 464.30) scale(0.95 1)">MARCH5 sh#2</text>
</svg>
</body></html>
